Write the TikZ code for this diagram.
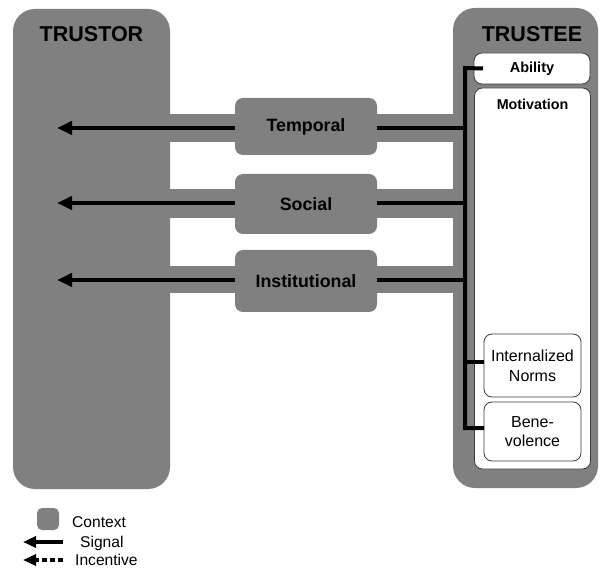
\documentclass[tikz,border=0pt]{standalone}
\usepackage{fontspec}
\setmainfont{Liberation Sans}
\usetikzlibrary{arrows.meta}
\definecolor{ctx}{HTML}{808080}
\definecolor{edge}{HTML}{3A3A3A}
\tikzset{
  actor/.style={fill=ctx, draw=none, rounded corners=22pt, inner sep=0pt, outer sep=0pt},
  ctxbox/.style={fill=ctx, draw=none, rounded corners=8pt, inner sep=0pt, outer sep=0pt,
    font=\fontsize{17.8}{20}\selectfont\bfseries},
  band/.style={fill=ctx, draw=none},
  wbox/.style={fill=white, draw=edge, line width=0.8pt, rounded corners=8pt, inner sep=0pt, outer sep=0pt},
  title/.style={font=\fontsize{21.5}{24}\selectfont\bfseries, inner sep=0pt},
  sig/.style={line width=4pt, -{Triangle[length=15pt,width=13pt]}},
  barline/.style={line width=4pt},
  legtext/.style={font=\fontsize{15.6}{18}\selectfont, inner sep=0pt, anchor=base west}
}
\begin{document}
\begin{tikzpicture}[x=1pt,y=-1pt]
\useasboundingbox (0,0) rectangle (600,569);
% bands
\fill[band] (160,114) rectangle (462,142);
\fill[band] (160,189) rectangle (462,218);
\fill[band] (160,266) rectangle (462,293);
% actors
\node[actor, minimum width=157pt, minimum height=480pt] (trustor) at (91.5,249) {};
\node[actor, minimum width=145pt, minimum height=480pt] (trustee) at (525.5,248) {};
\node[title] (trustorlbl) at (91.5,34.5) {TRUSTOR};
\node[title] (trusteelbl) at (532,34) {TRUSTEE};
% context boxes
\node[ctxbox, minimum width=142pt, minimum height=57pt] (temporal) at (306,126.5) {Temporal};
\node[ctxbox, minimum width=142pt, minimum height=60pt] (social) at (306,204) {Social};
\node[ctxbox, minimum width=142pt, minimum height=62pt] (institutional) at (306,281) {Institutional};
% trustee boxes
\node[wbox, minimum width=116pt, minimum height=31pt, font=\fontsize{14.5}{17}\selectfont\bfseries] (ability) at (532,68.5) {Ability};
\node[wbox, minimum width=116pt, minimum height=381pt] (motivation) at (532.5,278.5) {};
\node[inner sep=0pt, font=\fontsize{14.3}{17}\selectfont\bfseries] (motlbl) at (532.5,104) {Motivation};
\node[wbox, minimum width=97pt, minimum height=63pt, align=center, font=\fontsize{16}{20}\selectfont] (norms) at (532.5,365.5) {Internalized\\Norms};
\node[wbox, minimum width=97pt, minimum height=59pt, align=center, font=\fontsize{16}{19}\selectfont] (benevolence) at (532.5,431.5) {Bene-\\volence};
% free ends
\coordinate (tT) at (57,128);
\coordinate (tS) at (57,203);
\coordinate (tI) at (57,280);
\coordinate (bT) at (465,128);
\coordinate (bS) at (465,203);
\coordinate (bI) at (465,280);
\coordinate (bartop) at (465,68);
\coordinate (barbot) at (465,428);
% signals
\draw[sig] (temporal.west |- tT) -- (tT);
\draw[sig] (social.west |- tS) -- (tS);
\draw[sig] (institutional.west |- tI) -- (tI);
\draw[barline] (temporal.east |- bT) -- (bT);
\draw[barline] (social.east |- bS) -- (bS);
\draw[barline] (institutional.east |- bI) -- (bI);
\draw[barline] ([xshift=9pt]ability.west) -- (bartop) -- (barbot) -- (benevolence.west |- barbot);
\draw[barline] (norms.west |- 0,362) -- (465,362);
% legend
\node[fill=ctx, rounded corners=5pt, minimum width=22pt, minimum height=22pt, inner sep=0pt] (legctx) at (48,519) {};
\node[legtext] (legctxt) at (72,527) {Context};
\coordinate (ls0) at (63,542);
\coordinate (ls1) at (23,542);
\draw[line width=4pt, -{Triangle[length=13pt,width=11pt]}] (ls0) -- (ls1);
\node[legtext] (legsig) at (80,547) {Signal};
\coordinate (li0) at (63,560);
\coordinate (li1) at (23,560);
\draw[line width=4pt, dash pattern=on 5pt off 3pt, -{Triangle[length=13pt,width=11pt]}] (li0) -- (li1);
\node[legtext] (leginc) at (75,565) {Incentive};
\end{tikzpicture}
\end{document}
